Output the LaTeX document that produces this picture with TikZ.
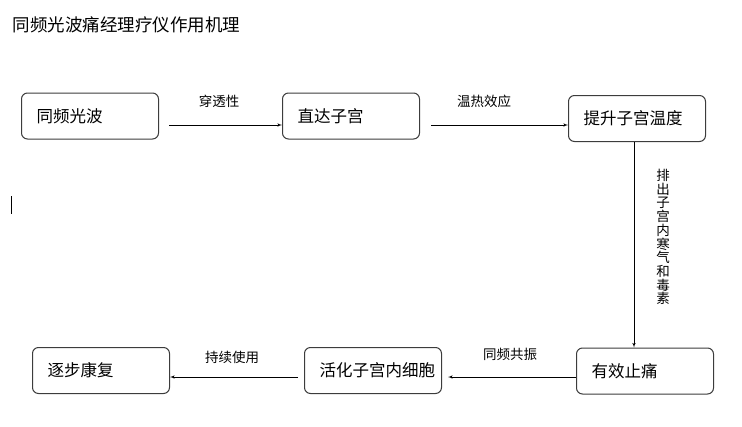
\documentclass[tikz,border=0pt]{standalone}
\usepackage{fontspec}
\setmainfont{Noto Sans CJK SC}
\usetikzlibrary{arrows}
\definecolor{box_gray}{RGB}{60,60,60}

\begin{document}
\begin{tikzpicture}[->,semithick,>=latex',x=1pt,y=-1pt]
    \tikzstyle{stage}=[draw=box_gray, line width=1pt, rounded corners=6pt, anchor=west, minimum height=46pt, text width=107pt, inner xsep=15pt, align=left, font=\fontsize{16.5}{18}\selectfont, text=black]
    \tikzstyle{lbl}=[font=\fontsize{13.5}{15}\selectfont, text=black]
    \useasboundingbox (0,0) rectangle (742,426);

    \node[anchor=west, font=\fontsize{17.5}{19}\selectfont] (title) at (9,25) {同频光波痛经理疗仪作用机理};
    \draw[-, line width=1.5pt] (11.5,196) -- (11.5,214);

    \node[stage] (wave)  at (21,116)    {同频光波};
    \node[stage] (reach) at (282,116)   {直达子宫};
    \node[stage] (temp)  at (568,118.5) {提升子宫温度};
    \node[stage] (pain)  at (576,371)   {有效止痛};
    \node[stage] (cell)  at (304,370.5) {活化子宫内细胞};
    \node[stage] (heal)  at (32,370.5)  {逐步康复};

    \coordinate (s1) at (169,125);
    \coordinate (s2) at (431,125);
    \coordinate (s5) at (298,377);

    \node[lbl] (l1) at (219,101) {穿透性};
    \node[lbl] (l2) at (484,101) {温热效应};
    \node[lbl, align=center, font=\fontsize{13.5}{13.7}\selectfont] (l3) at (663,237)
        {排\\出\\子\\宫\\内\\寒\\气\\和\\毒\\素};
    \node[lbl] (l4) at (510,354) {同频共振};
    \node[lbl] (l5) at (232,357) {持续使用};

    \path
     (s1) edge (s1 -| reach.west)
     (s2) edge (s2 -| temp.west)
     ([xshift=-3pt]temp.south) edge ([xshift=-3pt]temp.south |- pain.north)
     ([yshift=-6pt]pain.west) edge ([xshift=6pt,yshift=-6.5pt]cell.east)
     (s5) edge (s5 -| heal.east)
     ;
\end{tikzpicture}
\end{document}
